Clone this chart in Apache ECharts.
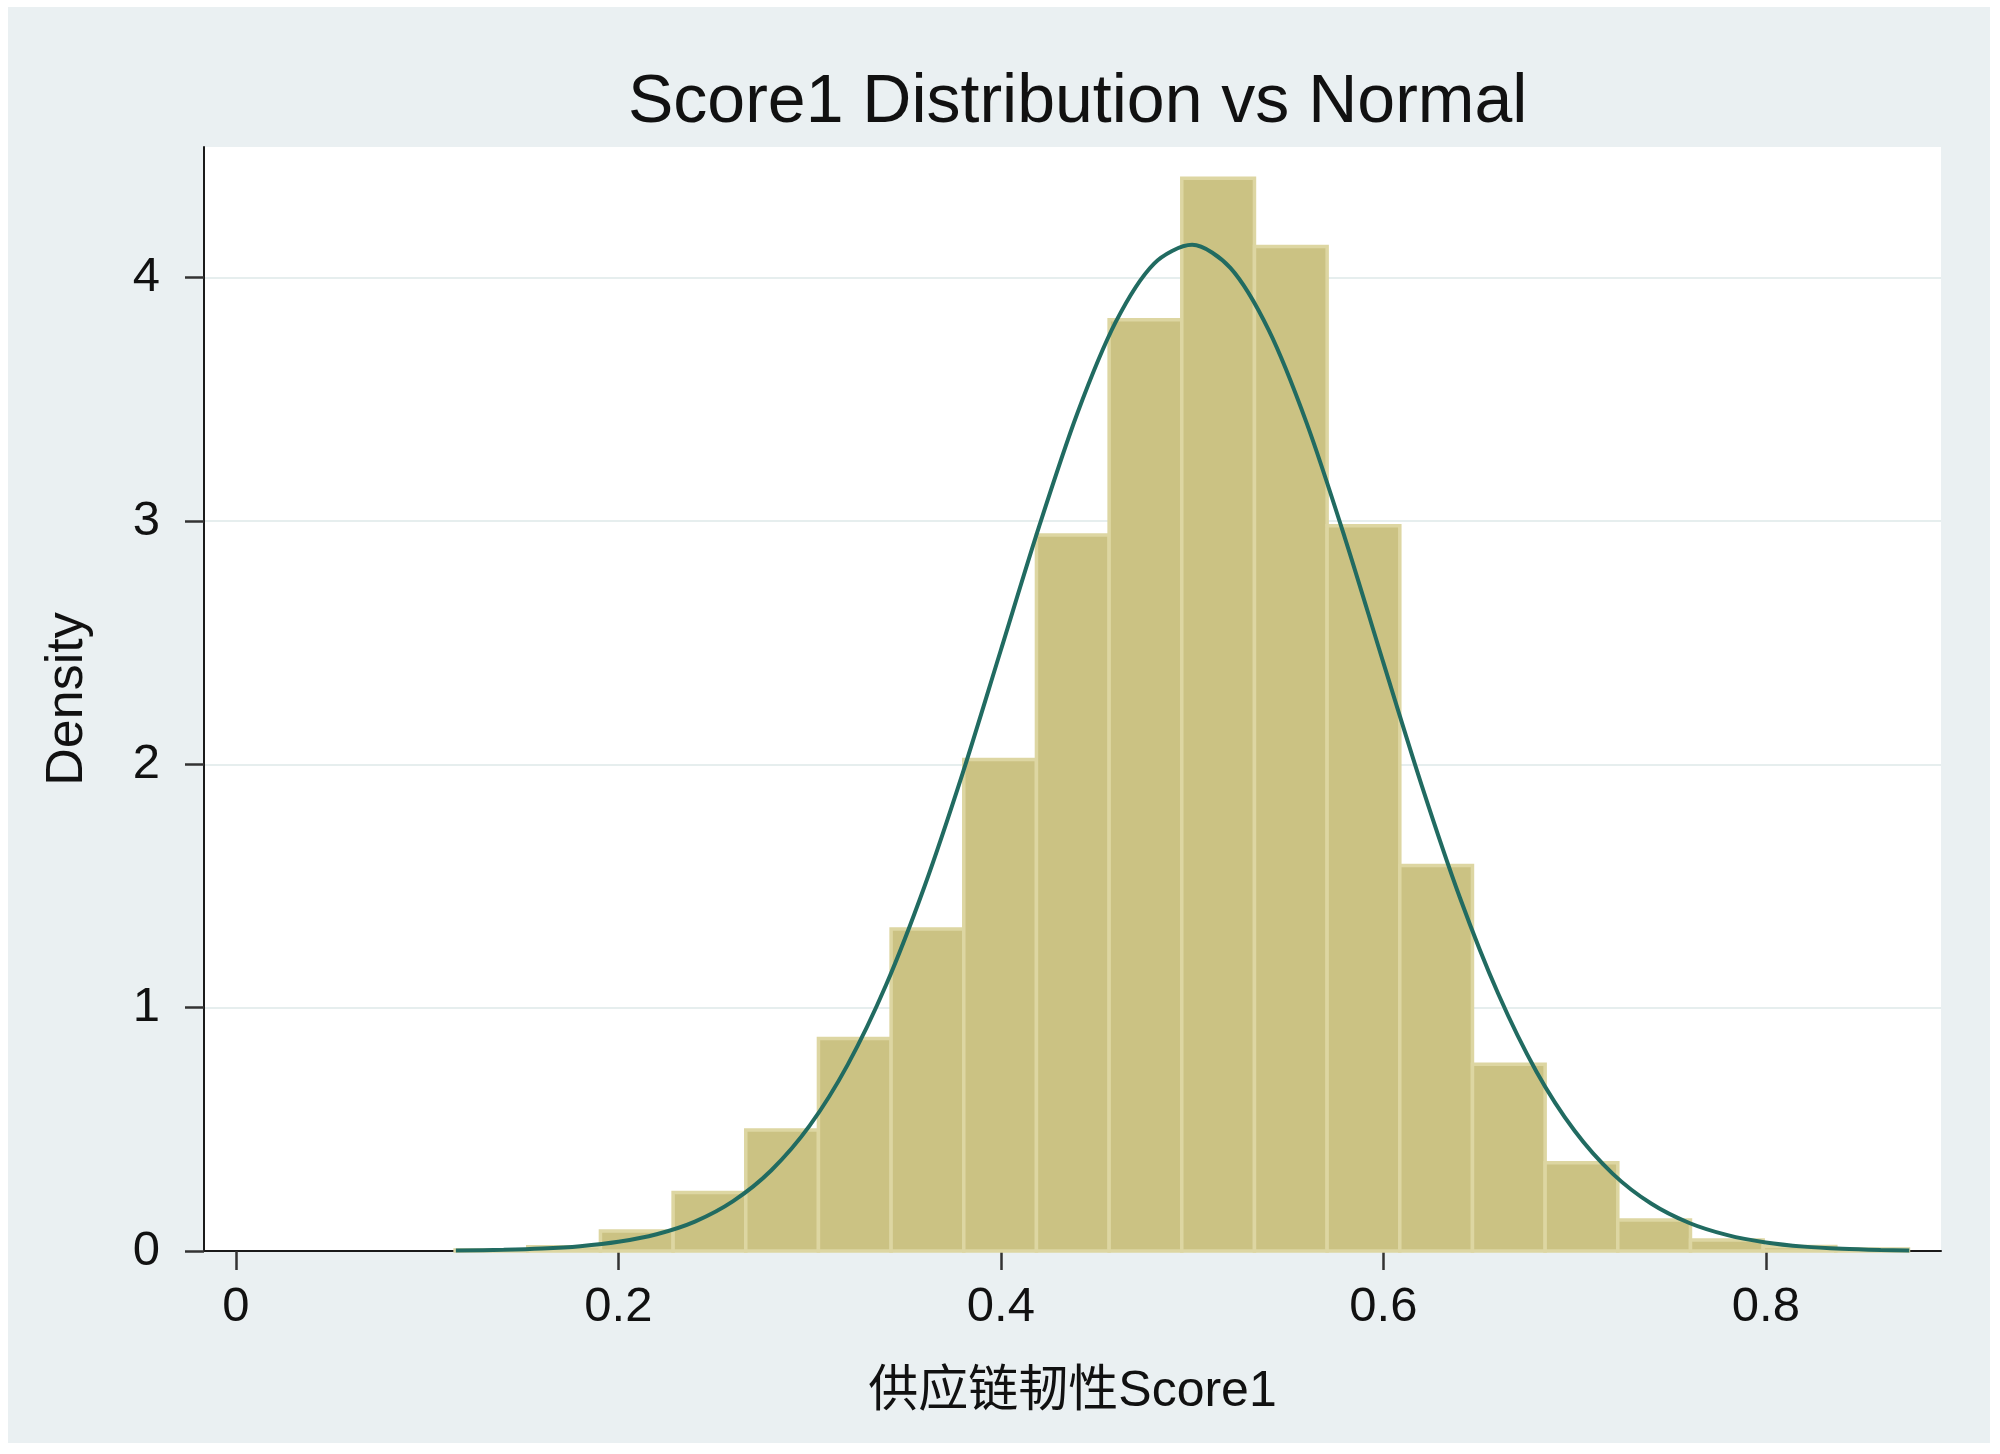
<!DOCTYPE html>
<html>
<head>
<meta charset="utf-8">
<title>Score1 Distribution vs Normal</title>
<script src="https://cdn.jsdelivr.net/npm/echarts@6/dist/echarts.min.js"></script>
<style>
    html, body { margin: 0; padding: 0; background: #ffffff; }
    #main { position: absolute; left: 8px; top: 7px; width: 1982px; height: 1436px; }
</style>
</head>
<body>
<div id="main"></div>

<script>
    //直方图分组边界
    var binEdges = [0.1146, 0.1526, 0.1906, 0.2286, 0.2666, 0.3046, 0.3426, 0.3806, 0.4186, 0.4566,
        0.4946, 0.5326, 0.5706, 0.6086, 0.6466, 0.6846, 0.7226, 0.7606, 0.7986, 0.8366, 0.8746];

    //每组密度
    var binDensity = [0.004, 0.017, 0.082, 0.240, 0.497, 0.873, 1.323, 2.020, 2.942, 3.827,
        4.409, 4.128, 2.981, 1.584, 0.767, 0.363, 0.127, 0.045, 0.018, 0.008];

    //正态曲线
    var curveX = [0.115, 0.14, 0.16, 0.18, 0.20, 0.22, 0.24, 0.26, 0.28, 0.30, 0.32, 0.34, 0.36, 0.38,
        0.40, 0.42, 0.44, 0.46, 0.48, 0.50, 0.52, 0.54, 0.56, 0.58, 0.60, 0.62, 0.64, 0.66, 0.68,
        0.70, 0.72, 0.74, 0.76, 0.78, 0.80, 0.82, 0.84, 0.86, 0.875];
    var curveY = [0.002, 0.005, 0.010, 0.020, 0.038, 0.069, 0.121, 0.205, 0.332, 0.515, 0.767, 1.094, 1.497, 1.963,
        2.470, 2.978, 3.443, 3.817, 4.057, 4.135, 4.040, 3.785, 3.400, 2.928, 2.418, 1.915, 1.453, 1.058, 0.738,
        0.494, 0.317, 0.195, 0.115, 0.065, 0.035, 0.018, 0.009, 0.004, 0.002];

    //坐标轴刻度
    var xTicks = [0, 0.2, 0.4, 0.6, 0.8];
    var yTicks = [0, 1, 2, 3, 4];

    var fontName = '"Liberation Sans", Arial, "Noto Sans CJK SC", sans-serif';

    //组合数据
    var bar_data = [];
    for (var i = 0; i < binDensity.length; i++) {
        bar_data.push([binEdges[i], binEdges[i + 1], binDensity[i]]);
    }
    var curve_data = [];
    for (var j = 0; j < curveX.length; j++) {
        curve_data.push([curveX[j], curveY[j]]);
    }

    var chart = echarts.init(document.getElementById('main'));
    var option = {
        backgroundColor: '#eaf0f2',
        animation: false,
        title: {
            text: 'Score1 Distribution vs Normal',
            left: 620,
            top: 62,
            padding: 0,
            textStyle: {
                fontFamily: fontName,
                fontSize: 68,
                fontWeight: 'normal',
                color: '#111111'
            }
        },
        grid: {
            left: 196,
            right: 49,
            top: 140,
            bottom: 192,
            show: true,
            backgroundColor: '#ffffff',
            borderWidth: 0
        },
        xAxis: {
            type: 'value',
            min: -0.0167,
            max: 0.8916,
            name: '供应链韧性Score1',
            nameLocation: 'middle',
            nameGap: 116,
            nameTextStyle: {
                fontFamily: fontName,
                fontSize: 50,
                color: '#111111'
            },
            axisLine: {
                onZero: false,
                lineStyle: { color: '#1a1a1a', width: 2 }
            },
            axisTick: {
                show: true,
                length: 19,
                customValues: xTicks,
                lineStyle: { color: '#333333', width: 2.5 }
            },
            axisLabel: {
                customValues: xTicks,
                margin: 32,
                fontFamily: fontName,
                fontSize: 49,
                color: '#111111',
                formatter: function (v) {
                    return String(v);
                }
            },
            splitLine: { show: false }
        },
        yAxis: {
            type: 'value',
            min: 0,
            max: 4.537,
            interval: 1,
            name: 'Density',
            nameLocation: 'middle',
            nameGap: 110,
            nameTextStyle: {
                fontFamily: fontName,
                fontSize: 52,
                color: '#111111'
            },
            axisLine: {
                show: true,
                onZero: false,
                lineStyle: { color: '#1a1a1a', width: 2 }
            },
            axisTick: {
                show: true,
                length: 19,
                customValues: yTicks,
                lineStyle: { color: '#333333', width: 2.5 }
            },
            axisLabel: {
                customValues: yTicks,
                margin: 44,
                fontFamily: fontName,
                fontSize: 49,
                color: '#111111'
            },
            splitLine: {
                show: true,
                lineStyle: { color: '#e6eeee', width: 2 }
            }
        },
        series: [
            {
                name: 'hist',
                type: 'custom',
                data: bar_data,
                encode: { x: [0, 1], y: 2 },
                renderItem: function (params, api) {
                    var top = api.coord([api.value(0), api.value(2)]);
                    var base = api.coord([api.value(1), 0]);
                    return {
                        type: 'rect',
                        shape: {
                            x: top[0],
                            y: top[1],
                            width: base[0] - top[0],
                            height: base[1] - top[1]
                        },
                        style: {
                            fill: '#cbc283',
                            stroke: '#ddd6a2',
                            lineWidth: 3.5
                        }
                    };
                },
                z: 2
            },
            {
                name: 'normal',
                type: 'line',
                data: curve_data,
                smooth: 0.3,
                showSymbol: false,
                lineStyle: { color: '#216b61', width: 4 },
                z: 3
            }
        ]
    };
    chart.setOption(option, true);
</script>
</body>
</html>
